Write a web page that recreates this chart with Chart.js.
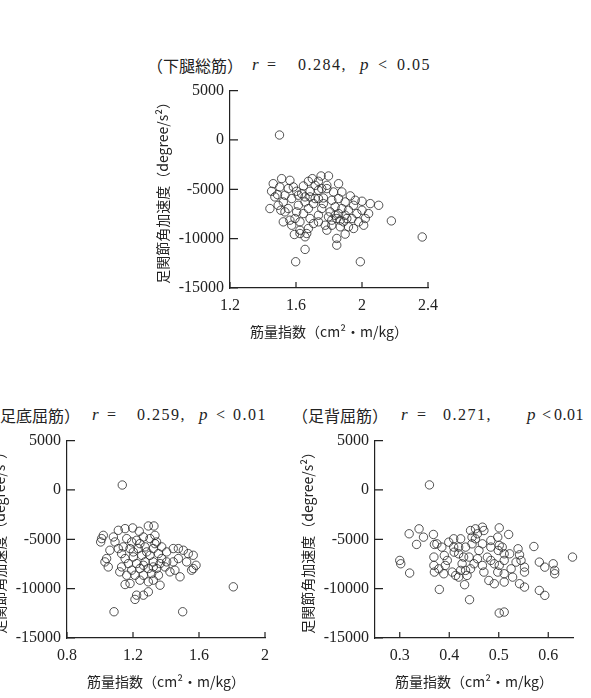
<!DOCTYPE html>
<html lang="ja">
<head>
<meta charset="utf-8">
<title>筋量指数と足関節角加速度</title>
<script src="https://cdn.jsdelivr.net/npm/chart.js@4.4.1/dist/chart.umd.min.js"></script>
<style>
  html, body { margin: 0; padding: 0; background: #fff; }
  body { position: relative; width: 591px; height: 698px; overflow: hidden; }
  canvas { position: absolute; }
  .t { position: absolute; white-space: nowrap; line-height: 20px; color: #222; }
  .jp { font-family: "Noto Sans CJK JP", sans-serif; font-size: 16px; }
  .num { font-family: "Liberation Serif", serif; font-size: 16px; letter-spacing: 1.5px; }
  .it { font-family: "Liberation Serif", serif; font-size: 17px; font-style: italic; }
</style>
</head>
<body>

<!-- titles -->
<div class="t jp" style="left:147px;top:55px">（下腿総筋）</div>
<div class="t it" style="left:252px;top:55px">r</div>
<div class="t num" style="left:267px;top:55px">=</div>
<div class="t num" style="left:298px;top:55px">0.284,</div>
<div class="t it" style="left:360px;top:55px">p</div>
<div class="t num" style="left:378px;top:55px">&lt;</div>
<div class="t num" style="left:397px;top:55px">0.05</div>

<div class="t jp" style="left:-16px;top:405px">（足底屈筋）</div>
<div class="t it" style="left:92px;top:405px">r</div>
<div class="t num" style="left:107px;top:405px">=</div>
<div class="t num" style="left:137px;top:405px">0.259,</div>
<div class="t it" style="left:199px;top:405px">p</div>
<div class="t num" style="left:216px;top:405px">&lt;</div>
<div class="t num" style="left:233px;top:405px">0.01</div>

<div class="t jp" style="left:292px;top:405px">（足背屈筋）</div>
<div class="t it" style="left:401px;top:405px">r</div>
<div class="t num" style="left:417px;top:405px">=</div>
<div class="t num" style="left:443px;top:405px">0.271,</div>
<div class="t it" style="left:527px;top:405px">p</div>
<div class="t num" style="left:542px;top:405px">&lt;</div>
<div class="t num" style="left:554px;top:405px;letter-spacing:0.5px">0.01</div>

<canvas id="LegChart" width="323" height="269" style="left:130px;top:75px"></canvas>
<canvas id="PlantarChart" width="323" height="269" style="left:-33px;top:425px"></canvas>
<canvas id="DorsiChart" width="323" height="269" style="left:275px;top:425px"></canvas>

<script>
// axis labels and ticks
const yTitle = '足関節角加速度（degree/s²）';
const xTitle = '筋量指数（cm²・m/kg）';
const yTicks = [5000, 0, -5000, -10000, -15000];
const legTicks = [1.2, 1.6, 2.0, 2.4];
const plantarTicks = [0.8, 1.2, 1.6, 2.0];
const dorsiTicks = [0.3, 0.4, 0.5, 0.6];

// 下腿総筋
const legX = [1.50, 1.513, 1.563, 1.462, 1.502, 1.452, 1.488, 1.442, 1.508, 1.533, 1.523, 1.563, 1.594, 1.590, 1.624,
  1.665, 1.655, 1.655, 1.598, 1.99, 2.178, 2.101, 2.05, 2.0, 1.929, 1.858, 1.797, 1.752, 1.699, 1.675,
  1.736, 1.645, 1.584, 1.604, 1.634, 1.685, 1.736, 1.787, 1.685, 1.716, 1.766, 1.655, 1.614, 1.574, 1.817,
  1.858, 1.898, 1.949, 1.837, 1.807, 1.858, 1.898, 1.847, 1.797, 1.888, 1.939, 1.969, 2.0, 2.02, 1.98,
  1.918, 1.898, 1.847, 1.847, 1.787, 1.736, 1.706, 1.736, 1.685, 1.645, 1.624, 1.675, 1.756, 1.706, 1.766,
  1.533, 1.553, 1.492, 1.553, 1.604, 1.574, 1.624, 1.675, 1.817, 1.868, 1.949, 2.01, 2.04, 1.827, 1.878,
  1.918, 1.837, 1.868, 1.817, 1.777, 1.756, 1.716, 1.787, 1.614, 1.655, 1.472, 1.523, 1.736, 1.959, 1.878,
  1.908, 2.365];
const legY = [500, -3920, -4090, -4430, -4765, -5200, -5540, -6950, -7120, -7290, -8300, -8130, -7960, -9580, -9480,
  -9480, -9810, -11090, -12340, -12340, -8200, -6620, -6450, -6210, -5670, -4430, -3650, -3650, -3920, -4190,
  -4190, -4660, -4765, -5200, -5440, -5200, -5100, -4930, -5770, -5940, -5880, -6280, -6620, -5940, -6110,
  -5940, -6280, -6620, -6780, -7290, -7460, -7630, -7960, -7790, -8300, -7960, -7460, -7120, -7960, -8300,
  -8800, -9540, -9980, -10660, -9140, -8300, -8470, -7630, -7960, -7460, -8300, -6950, -6950, -6450, -6450,
  -5600, -4930, -6620, -6950, -7290, -8640, -9140, -8970, -8640, -8800, -8970, -8640, -7460, -5270, -5270,
  -7120, -7630, -8130, -8130, -8640, -4930, -4600, -4600, -5600, -5770, -5770, -6280, -5940, -6110, -6950,
  -7960, -9830];

// 足底屈筋
const plantarX = [1.135, 1.808, 1.085, 1.501, 1.010, 1.004, 1.02, 1.081, 1.111, 1.152, 1.198, 1.238, 1.293, 1.327, 1.333,
  1.343, 1.374, 1.04, 1.03, 1.05, 1.12, 1.131, 1.152, 1.182, 1.222, 1.212, 1.263, 1.293, 1.364, 1.323,
  1.444, 1.475, 1.505, 1.535, 1.565, 1.582, 1.555, 1.485, 1.454, 1.424, 1.444, 1.475, 1.525, 1.404, 1.565,
  1.162, 1.192, 1.222, 1.263, 1.303, 1.141, 1.182, 1.232, 1.273, 1.323, 1.354, 1.303, 1.253, 1.202, 1.152,
  1.172, 1.222, 1.273, 1.323, 1.364, 1.343, 1.293, 1.242, 1.192, 1.162, 1.212, 1.263, 1.313, 1.354, 1.293,
  1.242, 1.111, 1.091, 1.131, 1.374, 1.394, 1.404, 1.242, 1.333, 1.283, 1.202, 1.263, 1.323, 1.06];
const plantarY = [500, -9815, -12340, -12340, -4930, -5270, -4600, -4765, -4090, -3920, -3850, -4190, -3650, -3650, -4600,
  -5270, -5770, -6950, -7290, -7800, -8300, -7800, -9580, -9480, -10660, -11090, -10660, -10320, -9650, -9140,
  -5940, -5940, -6110, -6450, -6620, -7630, -8130, -8800, -8130, -8300, -7290, -6950, -7290, -7290, -7960,
  -4930, -5270, -5100, -4765, -4930, -5770, -5940, -5940, -5770, -5940, -6450, -6620, -6620, -6780, -6950,
  -7460, -7460, -7290, -7290, -7460, -7960, -7960, -7960, -8130, -8640, -8640, -8640, -8470, -8640, -9310,
  -9140, -5940, -5270, -6450, -6950, -7800, -6280, -5440, -5440, -6280, -6280, -7630, -7800, -6110];

// 足背屈筋
const dorsiX = [0.360, 0.501, 0.511, 0.441, 0.380, 0.431, 0.300, 0.302, 0.320, 0.319, 0.339, 0.334, 0.348, 0.368, 0.370,
  0.369, 0.369, 0.370, 0.385, 0.390, 0.379, 0.392, 0.409, 0.409, 0.410, 0.419, 0.419, 0.423, 0.406, 0.413,
  0.423, 0.433, 0.436, 0.426, 0.443, 0.450, 0.457, 0.460, 0.446, 0.446, 0.443, 0.453, 0.467, 0.470, 0.453,
  0.477, 0.467, 0.470, 0.484, 0.484, 0.484, 0.480, 0.491, 0.498, 0.501, 0.499, 0.501, 0.498, 0.501, 0.507,
  0.511, 0.511, 0.511, 0.511, 0.522, 0.520, 0.525, 0.542, 0.545, 0.552, 0.552, 0.542, 0.552, 0.571, 0.582,
  0.582, 0.593, 0.593, 0.610, 0.613, 0.613, 0.649, 0.399, 0.396, 0.429, 0.433, 0.457, 0.467, 0.375, 0.389,
  0.419, 0.440, 0.528, 0.491, 0.535, 0.539];
const dorsiY = [510, -12470, -12370, -11120, -10080, -9600, -7140, -7480, -8420, -4440, -3940, -5520, -4780, -4510, -5520,
  -6800, -7650, -8320, -5790, -6640, -7990, -7650, -4950, -5790, -6300, -6470, -5790, -4950, -8320, -8660,
  -8150, -8150, -8660, -7480, -7990, -7480, -6970, -6130, -5460, -4780, -4110, -3940, -3770, -4110, -4950,
  -6810, -7650, -8320, -7140, -5120, -5790, -9170, -9500, -8320, -7650, -6130, -5620, -4780, -3840, -5790,
  -6470, -7140, -8490, -9330, -6470, -4510, -7990, -6570, -7140, -7820, -8320, -9500, -9840, -5730, -7310,
  -10180, -10680, -7820, -7480, -8150, -8490, -6800, -5290, -7140, -6800, -5790, -4440, -5460, -5460, -8490,
  -8830, -6800, -8830, -7480, -7310, -5960];

const tickFont = { family: '"Liberation Serif", serif', size: 16 };
const titleFont = { family: '"Noto Sans CJK JP", sans-serif', size: 14 };

// tick marks pointing into the plot
const innerTicks = {
    id: 'innerTicks',
    afterDraw(chart) {
        const { ctx, chartArea: a, scales: { x, y } } = chart;
        ctx.save();
        ctx.strokeStyle = '#222';
        ctx.lineWidth = 1.2;
        ctx.beginPath();
        x.ticks.forEach(t => {
            const px = x.getPixelForValue(t.value);
            ctx.moveTo(px, a.bottom);
            ctx.lineTo(px, a.bottom - 6);
        });
        y.ticks.forEach(t => {
            const py = y.getPixelForValue(t.value);
            ctx.moveTo(a.left, py);
            ctx.lineTo(a.left + 8, py);
        });
        ctx.stroke();
        ctx.restore();
    }
};

function makeChart(id, xs, ys, xTicks, xMin, xMax) {
    const ctx = document.getElementById(id).getContext('2d');
    new Chart(ctx, {
        type: 'scatter',
        data: {
            datasets: [{
                data: xs.map((v, i) => ({ x: v, y: ys[i] })),
                pointStyle: 'circle',
                pointRadius: 4.2,
                borderWidth: 1,
                borderColor: 'rgba(40, 40, 40, 0.8)',
                backgroundColor: 'rgba(0, 0, 0, 0)',
                clip: false
            }]
        },
        options: {
            responsive: false,
            animation: false,
            layout: { padding: { left: 20, top: 15, right: 25, bottom: 0 } },
            plugins: {
                legend: { display: false },
                tooltip: { enabled: false }
            },
            scales: {
                x: {
                    type: 'linear',
                    min: xMin,
                    max: xMax,
                    afterBuildTicks: s => { s.ticks = xTicks.map(v => ({ value: v })); },
                    afterFit: s => { s.height = 56; },
                    grid: { display: false, drawTicks: false },
                    border: { display: true, color: '#222', width: 1.2 },
                    ticks: {
                        font: tickFont,
                        color: '#222',
                        padding: 8,
                        maxRotation: 0,
                        callback: v => (Number.isInteger(v) ? String(v) : v.toFixed(1))
                    },
                    title: { display: true, text: xTitle, font: titleFont, color: '#222' }
                },
                y: {
                    type: 'linear',
                    min: -15000,
                    max: 5000,
                    afterBuildTicks: s => { s.ticks = yTicks.map(v => ({ value: v })); },
                    afterFit: s => { s.width = 80; },
                    grid: { display: false, drawTicks: false },
                    border: { display: true, color: '#222', width: 1.2 },
                    ticks: { font: tickFont, color: '#222', padding: 6, callback: v => String(v) },
                    title: { display: true, text: yTitle, font: titleFont, color: '#222' }
                }
            }
        },
        plugins: [innerTicks]
    });
}

makeChart('LegChart', legX, legY, legTicks, 1.2, 2.4);
makeChart('PlantarChart', plantarX, plantarY, plantarTicks, 0.8, 2.0);
makeChart('DorsiChart', dorsiX, dorsiY, dorsiTicks, 0.25, 0.65);
</script>
</body>
</html>
